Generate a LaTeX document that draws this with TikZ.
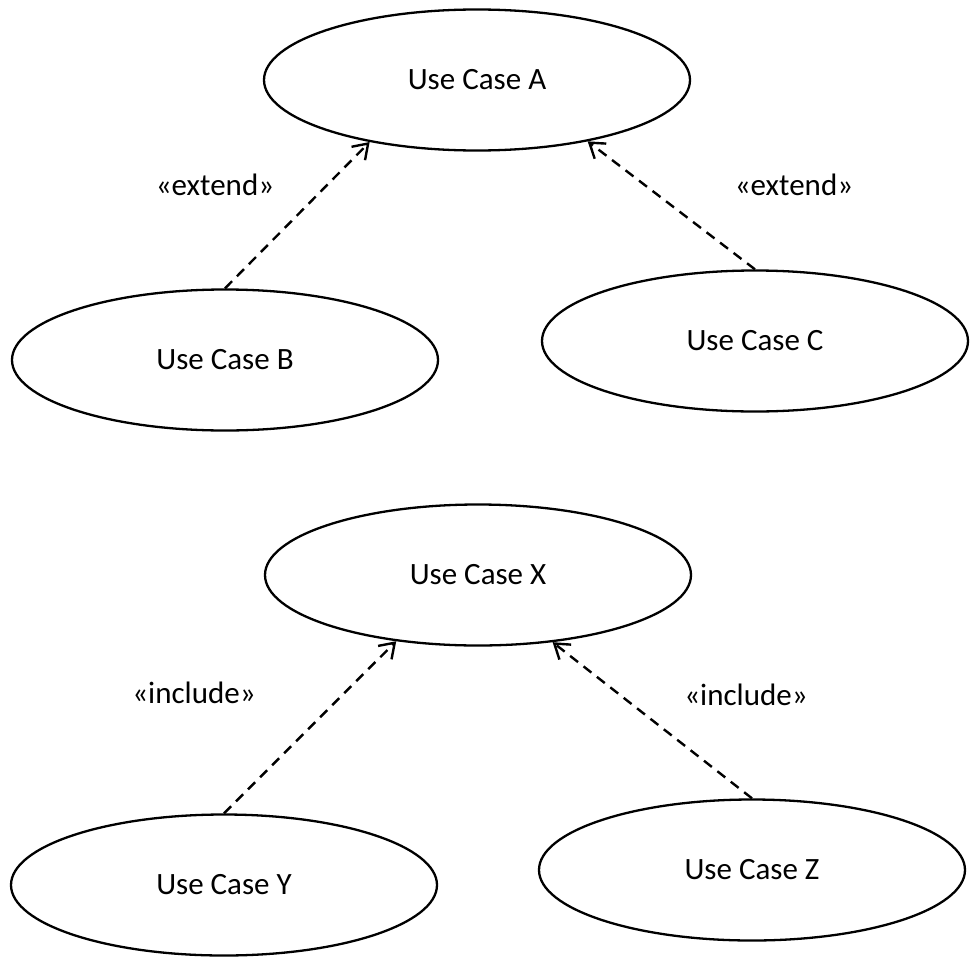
\documentclass[tikz,border=0pt]{standalone}
\usepackage{fontspec}
\setmainfont{Carlito}
\usetikzlibrary{shapes.geometric,arrows.meta}

\tikzset{
  usecase/.style={ellipse, draw=black, line width=2.3pt, fill=white,
    minimum width=426pt, minimum height=141pt, inner sep=0pt,
    font=\fontsize{31}{36}\selectfont},
  stereo/.style={font=\fontsize{31}{36}\selectfont, inner sep=0pt},
  dep/.style={draw=black, line width=2.4pt, dash pattern=on 10pt off 7pt,
    -{Straight Barb[length=14pt,width=19pt,line width=2.4pt]}}
}

\begin{document}
\begin{tikzpicture}[x=1pt,y=-1pt]
  \useasboundingbox (0,0) rectangle (976,958);

  % extend group
  \node[usecase] (A) at (477,80)  {Use Case A};
  \node[usecase] (B) at (225,360) {Use Case B};
  \node[usecase] (C) at (755,341) {Use Case C};

  \node[stereo] (ext1) at (215,185) {«extend»};
  \node[stereo] (ext2) at (794,185) {«extend»};

  \draw[dep] (B.north) -- (A.210.5);
  \draw[dep] (C.north) -- (A.331);

  % include group
  \node[usecase] (X) at (478,575) {Use Case X};
  \node[usecase] (Y) at (224,885) {Use Case Y};
  \node[usecase] (Z) at (752,870) {Use Case Z};

  \node[stereo] (inc1) at (194,693) {«include»};
  \node[stereo] (inc2) at (746,695) {«include»};

  \draw[dep] (Y.north) -- (X.219);
  \draw[dep] (Z.north) -- (X.318);
\end{tikzpicture}
\end{document}
